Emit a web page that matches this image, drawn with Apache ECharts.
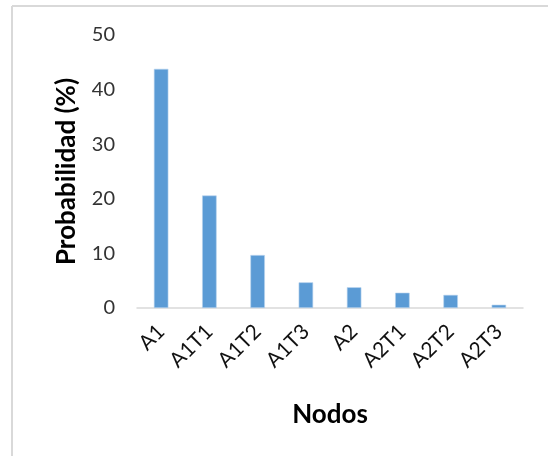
<!DOCTYPE html>
<html>
<head>
<meta charset="utf-8">
<script src="https://cdn.jsdelivr.net/npm/echarts@6/dist/echarts.min.js"></script>
<style>
  html, body { margin: 0; padding: 0; background: #fff; }
  #chart { width: 548px; height: 456px; }
</style>
</head>
<body>
<div id="chart"></div>
<script>
// Probability per node (%)
const nodos = ['A1', 'A1T1', 'A1T2', 'A1T3', 'A2', 'A2T1', 'A2T2', 'A2T3'];
const probabilidad = [43.8, 20.6, 9.7, 4.7, 3.8, 2.8, 2.4, 0.6];
const yTicks = { min: 0, max: 50, interval: 10 };

const FONT = 'Lato, "Open Sans", sans-serif';
const chart = echarts.init(document.getElementById('chart'), null, { renderer: 'canvas' });

chart.setOption({
  backgroundColor: '#ffffff',
  animation: false,
  grid: { left: 137, right: 25, top: 35, bottom: 148 },
  graphic: [
    // frame lines along the top and left edge
    { type: 'line', shape: { x1: 12, y1: 6, x2: 548, y2: 6 }, style: { stroke: '#d9d9d9', lineWidth: 2 } },
    { type: 'line', shape: { x1: 12, y1: 6, x2: 12, y2: 456 }, style: { stroke: '#d9d9d9', lineWidth: 2 } }
  ],
  xAxis: {
    type: 'category',
    data: nodos,
    name: 'Nodos',
    nameLocation: 'middle',
    nameGap: 94,
    nameTextStyle: { fontFamily: FONT, fontSize: 26, fontWeight: 'bold', color: '#000' },
    axisLine: { lineStyle: { color: '#d9d9d9', width: 1.5 } },
    axisTick: { show: false },
    axisLabel: { rotate: 45, margin: 20, fontFamily: FONT, fontSize: 21, color: '#111' }
  },
  yAxis: {
    type: 'value',
    min: yTicks.min,
    max: yTicks.max,
    interval: yTicks.interval,
    name: 'Probabilidad (%)',
    nameLocation: 'middle',
    nameGap: 57,
    nameTextStyle: { fontFamily: FONT, fontSize: 26, fontWeight: 'bold', color: '#000' },
    axisLine: { show: false },
    axisTick: { show: false },
    splitLine: { show: false },
    axisLabel: { margin: 22, fontFamily: FONT, fontSize: 20, color: '#333' }
  },
  series: [{
    type: 'bar',
    data: probabilidad,
    barWidth: '30%',
    itemStyle: { color: '#5b9bd5', borderColor: '#b8d4ee', borderWidth: 0.6 }
  }]
});
</script>
</body>
</html>
